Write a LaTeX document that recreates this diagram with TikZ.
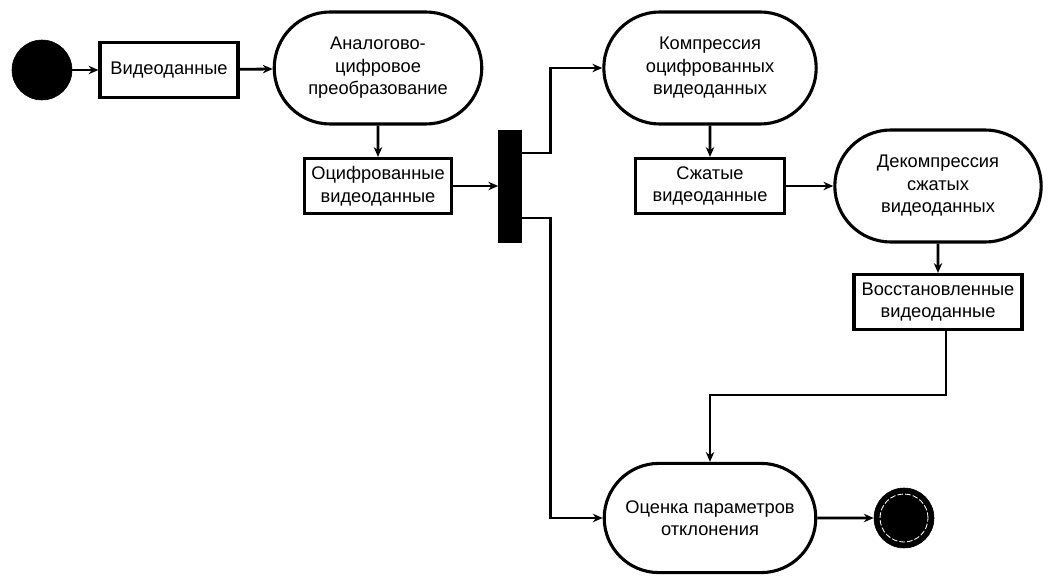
\documentclass[tikz,border=0pt]{standalone}
\usepackage{fontspec}
\setmainfont{Liberation Sans}
\usepackage{tikz}
\usetikzlibrary{shapes.misc, arrows.meta}
\tikzstyle{start} = [circle, minimum size = 1.5cm, draw = black, fill = black]
\tikzstyle{stop} = [circle, minimum size = 1.5cm, draw = black, fill = black, path picture = {\draw[white, line width = 0.6pt, dash pattern = on 4pt off 1.5pt] (path picture bounding box.center) circle (0.6cm);}]
\tikzstyle{data} = [rectangle, minimum height = 1.375cm, inner sep = 2pt, align = center, draw = black, line width = 2.2pt]
\tikzstyle{activity} = [rounded rectangle, minimum height = 2.8cm, inner sep = 2pt, align = center, draw = black, line width = 2.2pt]
\tikzstyle{fork} = [rectangle, minimum width = 0.575cm, minimum height = 2.8cm, inner sep = 0pt, draw = black, fill = black]
\tikzstyle{arrow} = [line width = 2pt, -{Stealth[length = 7pt, width = 6pt]}]

\begin{document}
\begin{tikzpicture}[font = \fontsize{13}{16}\selectfont]
    \useasboundingbox (0,0) rectangle (26.25,14.4);
    % \node(label)[style]{text};
    \node(start1)[start] at (1.05,12.65){};
    \node(vid)[data, minimum width = 3.45cm, right of = start1, node distance = 3.175cm]{Видеоданные};
    \node(adc)[activity, minimum width = 5.33cm, right of = vid, node distance = 5.225cm, yshift = 0.05cm]{Аналогово-\\цифровое\\преобразование};
    \node(dig)[data, minimum width = 3.675cm, below of = adc, node distance = 2.95cm]{Оцифрованные\\видеоданные};
    \node(bar)[fork, right of = dig, node distance = 3.3cm]{};
    \node(comp)[activity, minimum width = 5.45cm, right of = adc, node distance = 8.3cm]{Компрессия\\оцифрованных\\видеоданных};
    \node(sjat)[data, minimum width = 3.725cm, below of = comp, node distance = 2.95cm]{Сжатые\\видеоданные};
    \node(decomp)[activity, minimum width = 5.3cm, right of = sjat, node distance = 5.7cm]{Декомпрессия\\сжатых\\видеоданных};
    \node(rest)[data, minimum width = 4.2cm, below of = decomp, node distance = 2.9cm]{Восстановленные\\видеоданные};
    \node(eval)[activity, minimum width = 5.43cm, minimum height = 2.73cm, below of = comp, node distance = 11.25cm]{Оценка параметров\\отклонения};
    \node(stop1)[stop, right of = eval, node distance = 4.85cm]{};

    \draw[arrow](start1)--(vid);
    \draw[arrow](vid)--(adc);
    \draw[arrow](adc)--(dig);
    \draw[arrow](dig)--(bar);
    \draw[arrow]([yshift = 0.825cm]bar.east)--++(0.7125,0)|-(comp.west);
    \draw[arrow]([yshift = -0.8cm]bar.east)--++(0.7125,0)|-(eval.west);
    \draw[arrow](comp)--(sjat);
    \draw[arrow](sjat)--(decomp);
    \draw[arrow](decomp)--(rest);
    \draw[arrow]([xshift = 0.2cm]rest.south)--++(0,-1.6)-|(eval.north);
    \draw[arrow](eval)--(stop1);
\end{tikzpicture}
\end{document}
